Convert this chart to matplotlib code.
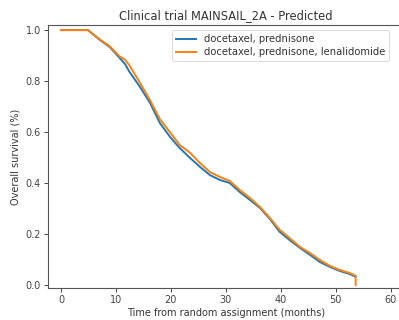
import matplotlib
matplotlib.use("Agg")
import matplotlib.pyplot as plt

# Time (months) and predicted overall survival
time_a = [0, 4.9, 7.1, 8.9, 10.7, 11.6, 12.5, 14.4, 16.2, 18.0, 19.8, 21.6, 23.5, 25.3, 27.1,
          28.9, 30.7, 32.5, 34.4, 36.2, 38.0, 39.8, 41.6, 43.5, 45.3, 47.1, 48.9, 50.7, 52.5, 53.6]
surv_a = [1.0, 1.0, 0.961, 0.933, 0.890, 0.868, 0.835, 0.776, 0.714, 0.635, 0.582, 0.537, 0.498,
          0.463, 0.431, 0.412, 0.400, 0.365, 0.333, 0.302, 0.259, 0.208, 0.176, 0.145, 0.118,
          0.090, 0.071, 0.055, 0.043, 0.032]

time_b = [0, 4.9, 7.1, 8.9, 10.7, 11.6, 12.5, 14.4, 16.2, 18.0, 19.8, 21.6, 23.5, 25.3, 27.1,
          28.9, 30.7, 32.5, 34.4, 36.2, 38.0, 39.8, 41.6, 43.5, 45.3, 47.1, 48.9, 50.7, 52.5,
          53.6, 53.6]
surv_b = [1.0, 1.0, 0.963, 0.936, 0.896, 0.885, 0.860, 0.792, 0.725, 0.650, 0.600, 0.549, 0.518,
          0.478, 0.443, 0.424, 0.408, 0.373, 0.341, 0.306, 0.263, 0.216, 0.184, 0.149, 0.125,
          0.098, 0.075, 0.059, 0.047, 0.036, 0.0]

labels = ["docetaxel, prednisone", "docetaxel, prednisone, lenalidomide"]
title = "Clinical trial MAINSAIL_2A - Predicted"

fig = plt.figure(figsize=(3.99, 3.2), dpi=100)
# axes extends slightly beyond right edge (cropped original)
ax = fig.add_axes([48/399, 1 - 288/320, 356/399, (288-25)/320])
ax.plot(time_a, surv_a, color="#1f77b4", lw=1.4, label=labels[0])
ax.plot(time_b, surv_b, color="#ff7f0e", lw=1.4, label=labels[1])

ax.set_xlim(-2.36, 62.4)
ax.set_ylim(-0.012, 1.02)
ax.set_xticks([0, 10, 20, 30, 40, 50, 60])
ax.set_yticks([0.0, 0.2, 0.4, 0.6, 0.8, 1.0])
ax.tick_params(labelsize=7, length=3, width=0.7, pad=2, colors="#444444", labelcolor="#444444")
for s in ax.spines.values():
    s.set_linewidth(0.8)
    s.set_color("#555555")
ax.set_title(title, fontsize=8.3, color="#333333", pad=4)
ax.set_xlabel("Time from random assignment (months)", fontsize=7, color="#333333", labelpad=2)
ax.set_ylabel("Overall survival (%)", fontsize=7, color="#333333", labelpad=4)
leg = ax.legend(loc="upper right", bbox_to_anchor=(346/356, 1.0), fontsize=7.2,
                frameon=True, handlelength=2.0, borderpad=0.4, labelspacing=0.3)
leg.get_frame().set_linewidth(0.6)
for t in leg.get_texts():
    t.set_color("#333333")

fig.savefig("out.png", dpi=100)
